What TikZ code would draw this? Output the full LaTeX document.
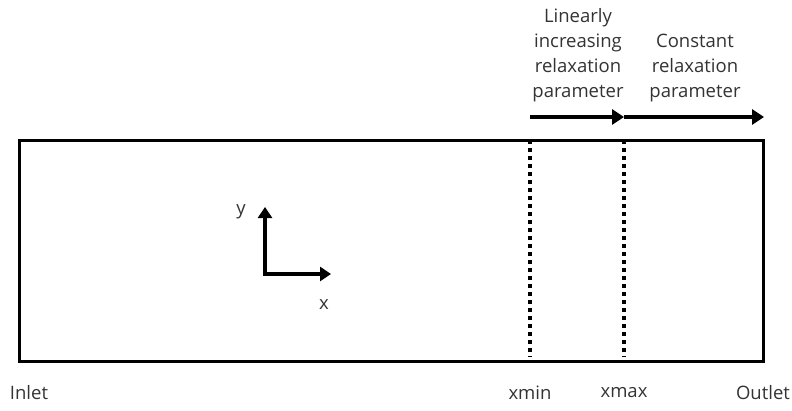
\documentclass[tikz,border=0pt]{standalone}
\usepackage{fontspec}
\setmainfont{Open Sans}
\usetikzlibrary{arrows.meta}
\begin{document}
\begin{tikzpicture}[x=1pt,y=-1pt,
  lbl/.style={font=\fontsize{18.5}{25}\selectfont, text=black!80, align=center, inner sep=0pt},
  thickarrow/.style={line width=3.5pt, -{Triangle[length=12pt,width=15pt]}},
  dotline/.style={line width=4pt, dash pattern=on 4pt off 4pt}]
\useasboundingbox (0,0) rectangle (792,410);
\node[draw, line width=3pt, minimum width=744pt, minimum height=221pt, anchor=north west, inner sep=0pt] (domain) at (18,139) {};
\coordinate (minTop) at (530,140);
\coordinate (minBot) at (530,357);
\coordinate (maxTop) at (624,140);
\coordinate (maxBot) at (624,357);
\draw[dotline] (minTop) -- (minBot);
\draw[dotline] (maxTop) -- (maxBot);
\coordinate (a1) at (530,117);
\coordinate (a2) at (624,117);
\coordinate (a3) at (764,117);
\draw[thickarrow] (a1) -- (a2);
\draw[thickarrow] (a2) -- (a3);
\coordinate (origin) at (265,274);
\coordinate (ytip) at (265,207);
\coordinate (xtip) at (331,274);
\draw[line width=3.5pt, {Triangle[length=11pt,width=14pt]}-{Triangle[length=11pt,width=14pt]}] (ytip) -- (origin) -- (xtip);
\node[lbl] (ylab) at (241,212) {y};
\node[lbl] (xlab) at (324,305) {x};
\node[lbl] (inlet) at (29,393) {Inlet};
\node[lbl] (xmin) at (530,393) {xmin};
\node[lbl] (xmax) at (624,393) {xmax};
\node[lbl] (outlet) at (763,393) {Outlet};
\node[lbl, anchor=base] (lin) at (578,97) {Linearly\\increasing\\relaxation\\parameter};
\node[lbl, anchor=base] (const) at (695,97) {Constant\\relaxation\\parameter};
\end{tikzpicture}
\end{document}
